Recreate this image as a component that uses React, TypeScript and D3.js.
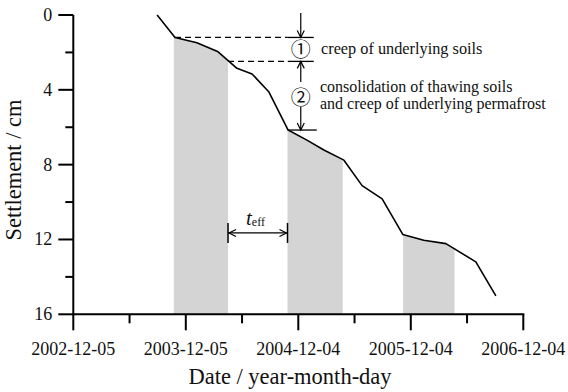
import React from "react";
import * as d3 from "d3";

const W = 568;
const H = 392;

// ---- data ----
const xTickDates = ["2002-12-05", "2003-12-05", "2004-12-04", "2005-12-04", "2006-12-04"];
const yMajorTicks = [0, 4, 8, 12, 16];
const yMinorTicks = [2, 6, 10, 14];

const obsDates = [
  "2003-09-03", "2003-10-31", "2004-01-10", "2004-03-17", "2004-05-19", "2004-07-07",
  "2004-08-30", "2004-11-01", "2005-01-01", "2005-02-25", "2005-05-01", "2005-06-29",
  "2005-09-02", "2005-11-08", "2006-01-15", "2006-03-28", "2006-07-03", "2006-09-06",
];
const obsSettlement = [
  0, 1.2, 1.48, 1.95, 2.85, 3.15,
  4.1, 6.15, 6.69, 7.22, 7.76, 9.12,
  9.83, 11.73, 12.04, 12.22, 13.2, 15.02,
];

const shadeStart = ["2003-10-27", "2004-10-30", "2005-11-09"];
const shadeEnd = ["2004-04-20", "2005-04-27", "2006-04-25"];

// annotation anchors (data coordinates)
const levelValues = [1.2, 2.48, 6.15];
const levelStartDates = ["2003-10-31", "2004-04-20", "2004-11-01"];
const annotDate = "2004-12-12";
const tEffStart = "2004-04-20";
const tEffEnd = "2004-10-30";
const tEffLevel = 11.65;

const parse = d3.utcParse("%Y-%m-%d");
const SERIF = "Liberation Serif";

export default function App() {
  const left = 73.3, right = 523.3, top = 15, bottom = 314.3;
  const x = d3.scaleUtc().domain([parse(xTickDates[0])!, parse(xTickDates[4])!]).range([left, right]);
  const y = d3.scaleLinear().domain([0, 16]).range([top, bottom]);

  const pts = obsDates.map((d, i) => ({ d: parse(d)!, s: obsSettlement[i] }));
  const line = d3.line<{ d: Date; s: number }>().x((p) => x(p.d)).y((p) => y(p.s));
  const area = d3.area<{ d: Date; s: number }>().x((p) => x(p.d)).y0(y(16)).y1((p) => y(p.s));

  const majorX = xTickDates.map((d) => x(parse(d)!));
  const minorX = majorX.slice(0, -1).map((v, i) => (v + majorX[i + 1]) / 2);

  const ax = x(parse(annotDate)!);
  const lv = levelValues.map((v) => y(v));
  const ls = levelStartDates.map((d) => x(parse(d)!));

  const downHead = (px: number, py: number) => `M${px - 3.5},${py - 7}L${px},${py}L${px + 3.5},${py - 7}`;
  const upHead = (px: number, py: number) => `M${px - 3.5},${py + 7}L${px},${py}L${px + 3.5},${py + 7}`;
  const leftHead = (px: number, py: number) => `M${px + 7},${py - 3.5}L${px},${py}L${px + 7},${py + 3.5}`;
  const rightHead = (px: number, py: number) => `M${px - 7},${py - 3.5}L${px},${py}L${px - 7},${py + 3.5}`;

  const tx0 = x(parse(tEffStart)!);
  const tx1 = x(parse(tEffEnd)!);
  const ty = y(tEffLevel);

  return (
    <svg width={W} height={H} style={{ position: "absolute", left: 0, top: 0, background: "#fff" }}>
      <defs>
        <clipPath id="shade">
          {shadeStart.map((s, i) => (
            <rect key={i} x={x(parse(s)!)} y={top - 5} width={x(parse(shadeEnd[i])!) - x(parse(s)!)} height={bottom - top + 5} />
          ))}
        </clipPath>
      </defs>

      {/* shaded periods */}
      <path d={area(pts)!} fill="#d4d4d4" clipPath="url(#shade)" />

      {/* settlement curve */}
      <path d={line(pts)!} fill="none" stroke="#000" strokeWidth={1.6} strokeLinejoin="round" />

      {/* axes */}
      <line x1={left} x2={left} y1={top} y2={bottom + 1} stroke="#000" strokeWidth={2} />
      <line x1={left - 1} x2={right + 1} y1={bottom} y2={bottom} stroke="#000" strokeWidth={2} />
      {yMajorTicks.map((t) => (
        <g key={"ym" + t}>
          <line x1={left - 15} x2={left} y1={y(t)} y2={y(t)} stroke="#000" strokeWidth={2} />
          <text x={left - 21} y={y(t) + 6} fontSize={18} fontFamily={SERIF} textAnchor="end" fill="#111">{t}</text>
        </g>
      ))}
      {yMinorTicks.map((t) => (
        <line key={"yn" + t} x1={left - 8} x2={left} y1={y(t)} y2={y(t)} stroke="#000" strokeWidth={2} />
      ))}
      {majorX.map((v, i) => (
        <g key={"xm" + i}>
          <line x1={v} x2={v} y1={bottom} y2={bottom + 16} stroke="#000" strokeWidth={2} />
          <text x={v} y={bottom + 41} fontSize={18} fontFamily={SERIF} textAnchor="middle" fill="#111">{xTickDates[i]}</text>
        </g>
      ))}
      {minorX.map((v, i) => (
        <line key={"xn" + i} x1={v} x2={v} y1={bottom} y2={bottom + 9} stroke="#000" strokeWidth={2} />
      ))}

      {/* axis titles */}
      <text x={290} y={384} fontSize={22.5} fontFamily={SERIF} textAnchor="middle" fill="#111">Date / year-month-day</text>
      <text transform={`translate(21,170) rotate(-90)`} fontSize={22.5} fontFamily={SERIF} textAnchor="middle" fill="#111">Settlement / cm</text>

      {/* dimension lines */}
      <line x1={ls[0]} x2={ax - 13} y1={lv[0]} y2={lv[0]} stroke="#000" strokeWidth={1.3} strokeDasharray="6,4" />
      <line x1={ls[1]} x2={ax - 13} y1={lv[1]} y2={lv[1]} stroke="#000" strokeWidth={1.3} strokeDasharray="6,4" />
      <line x1={ax - 13} x2={ax + 13} y1={lv[0]} y2={lv[0]} stroke="#000" strokeWidth={1.3} />
      <line x1={ax - 13} x2={ax + 13} y1={lv[1]} y2={lv[1]} stroke="#000" strokeWidth={1.3} />
      <line x1={ls[2]} x2={ax + 16} y1={lv[2]} y2={lv[2]} stroke="#000" strokeWidth={1.3} />

      {/* vertical arrows */}
      <line x1={ax} x2={ax} y1={13} y2={lv[0]} stroke="#000" strokeWidth={1.2} />
      <path d={downHead(ax, lv[0])} fill="none" stroke="#000" strokeWidth={1.2} />
      <line x1={ax} x2={ax} y1={lv[1]} y2={82} stroke="#000" strokeWidth={1.2} />
      <path d={upHead(ax, lv[1])} fill="none" stroke="#000" strokeWidth={1.2} />
      <line x1={ax} x2={ax} y1={107} y2={lv[2]} stroke="#000" strokeWidth={1.2} />
      <path d={downHead(ax, lv[2])} fill="none" stroke="#000" strokeWidth={1.2} />

      {/* circled numbers and notes */}
      <text x={ax} y={57} fontSize={20} textAnchor="middle" fontFamily="Noto Sans CJK SC" fill="#111">①</text>
      <text x={ax} y={104.5} fontSize={20} textAnchor="middle" fontFamily="Noto Sans CJK SC" fill="#111">②</text>
      <text x={321} y={54} fontSize={16.3} fontFamily={SERIF} fill="#111">creep of underlying soils</text>
      <text x={320} y={91.5} fontSize={16} fontFamily={SERIF} fill="#111">consolidation of thawing soils</text>
      <text x={320} y={108.5} fontSize={16} fontFamily={SERIF} fill="#111">and creep of underlying permafrost</text>

      {/* t_eff */}
      <line x1={tx0} x2={tx0} y1={ty - 10} y2={ty + 10} stroke="#000" strokeWidth={1.5} />
      <line x1={tx1} x2={tx1} y1={ty - 10} y2={ty + 10} stroke="#000" strokeWidth={1.5} />
      <line x1={tx0} x2={tx1} y1={ty} y2={ty} stroke="#000" strokeWidth={1.2} />
      <path d={leftHead(tx0 + 1, ty)} fill="none" stroke="#000" strokeWidth={1.2} />
      <path d={rightHead(tx1 - 1, ty)} fill="none" stroke="#000" strokeWidth={1.2} />
      <text x={246} y={225} fontSize={21} fontFamily={SERIF} fontStyle="italic" fill="#111">
        t<tspan fontSize={12} fontStyle="normal" dy={1}>eff</tspan>
      </text>
    </svg>
  );
}
